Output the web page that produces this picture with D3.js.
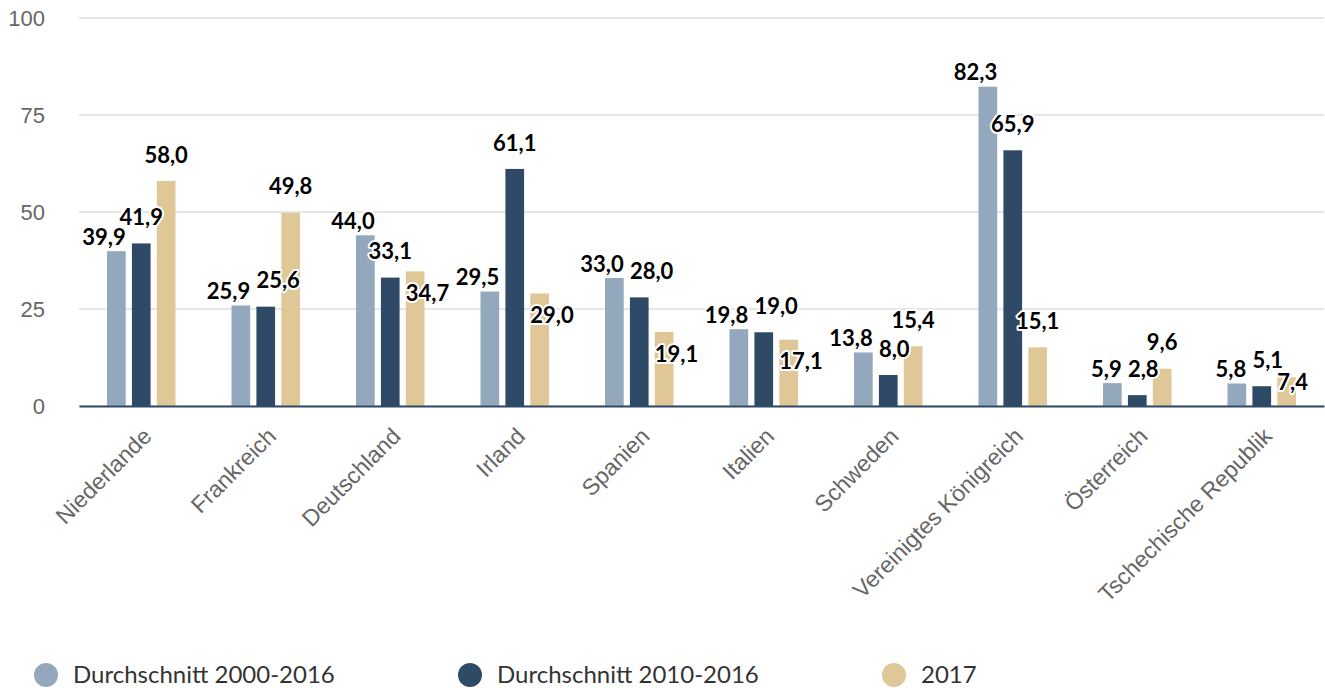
<!DOCTYPE html>
<html>
<head>
<meta charset="utf-8">
<script src="https://cdn.jsdelivr.net/npm/d3@7"></script>
<style>
  body { margin: 0; background: #fff; }
  svg { display: block; font-family: "Lato", "Noto Sans", sans-serif; }
  .yax .tick text { fill: #666; font-size: 22px; }
  .xax .tick text { fill: #666; font-size: 23px; }
  .lbl { font-weight: bold; font-size: 22px; fill: #000; stroke: #fff; stroke-width: 4px; paint-order: stroke; stroke-linejoin: round; }
  .legend text { fill: #333; font-size: 24px; }
</style>
</head>
<body>
<svg id="chart"></svg>
<script>
var countries = ["Niederlande", "Frankreich", "Deutschland", "Irland", "Spanien",
                 "Italien", "Schweden", "Vereinigtes Königreich", "Österreich", "Tschechische Republik"];
var seriesNames = ["Durchschnitt 2000-2016", "Durchschnitt 2010-2016", "2017"];
var avg2000 = [39.9, 25.9, 44.0, 29.5, 33.0, 19.8, 13.8, 82.3, 5.9, 5.8];
var avg2010 = [41.9, 25.6, 33.1, 61.1, 28.0, 19.0, 8.0, 65.9, 2.8, 5.1];
var y2017 = [58.0, 49.8, 34.7, 29.0, 19.1, 17.1, 15.4, 15.1, 9.6, 7.4];
var yTicks = [0, 25, 50, 75, 100];
var colors = ["#94a8bd", "#2e4a66", "#e0c797"];

var W = 1325, H = 688;
var margin = {top: 18, right: 1, bottom: 282, left: 79};
var width = W - margin.left - margin.right,
    height = H - margin.top - margin.bottom;

var svg = d3.select("#chart").attr("width", W).attr("height", H);
var g = svg.append("g").attr("transform", "translate(" + margin.left + "," + margin.top + ")");

var x = d3.scaleBand().domain(countries).range([0, width]);
var xs = d3.scaleBand().domain([0, 1, 2]).range([28, x.bandwidth() - 28]).paddingInner(0.25);
var y = d3.scaleLinear().domain([0, 100]).range([height, 0]);

// grid
g.append("g").selectAll("line").data(yTicks).enter().append("line")
  .attr("x1", 0).attr("x2", width)
  .attr("y1", function(d) { return y(d); }).attr("y2", function(d) { return y(d); })
  .attr("stroke", "#e6e6e6").attr("stroke-width", 2);

// y axis labels
var ya = g.append("g").attr("class", "yax")
  .call(d3.axisLeft(y).tickValues(yTicks).tickSize(0).tickPadding(34));
ya.select(".domain").remove();

var data = [avg2000, avg2010, y2017];

var groups = g.selectAll(".grp").data(countries).enter().append("g")
  .attr("transform", function(d) { return "translate(" + x(d) + ",0)"; });

groups.selectAll("rect").data(function(c, i) {
    return data.map(function(s, k) { return {k: k, v: s[i]}; });
  }).enter().append("rect")
  .attr("x", function(d) { return xs(d.k); })
  .attr("width", xs.bandwidth())
  .attr("y", function(d) { return y(d.v); })
  .attr("height", function(d) { return height - y(d.v); })
  .attr("fill", function(d) { return colors[d.k]; });

// x axis
var xa = g.append("g").attr("class", "xax").attr("transform", "translate(0," + height + ")")
  .call(d3.axisBottom(x).tickSize(0).tickPadding(0));
xa.select(".domain").attr("stroke", "#2e4a66").attr("stroke-width", 2);
xa.selectAll(".tick text")
  .attr("text-anchor", "end")
  .attr("dy", "0.35em")
  .attr("transform", "translate(6,26) rotate(-45)");

// data labels, nudged sideways / inside when they would collide
function fmt(v) { return d3.format(".1f")(v).replace(".", ","); }
function overlap(a, b, padX, padY) {
  return a.x0 < b.x1 + padX && b.x0 < a.x1 + padX && Math.abs(a.cy - b.cy) < 18 + padY;
}
function box(x0, w, cy) { return {x0: x0, x1: x0 + w, cy: cy, w: w}; }

var lblLayer = g.append("g");
countries.forEach(function(c, i) {
  var bw = xs.bandwidth();
  var placed = [];
  data.forEach(function(s, k) {
    var v = s[i];
    var bx = x(c) + xs(k);
    var top = y(v);
    var t = lblLayer.append("text").attr("class", "lbl").attr("dy", "0.35em").text(fmt(v));
    var w = t.node().getComputedTextLength();
    var b;
    if (k === 0) {
      b = box(bx + bw - w, w, top - 14);
    } else if (k === 1) {
      b = box(bx + bw / 2 - w / 2, w, top - 26);
      if (overlap(b, placed[0], 6, 0)) {
        b = box(bx, w, top - 26);
        if (overlap(b, placed[0], 4, 0)) {
          b = box(bx + bw / 2 - w / 2, w, top - 26);
          while (overlap(b, placed[0], 0, 0)) b.cy -= 12;
        }
      }
    } else {
      b = box(bx + bw / 2 - w / 2, w, top - 26);
      var lower = v < Math.max(data[0][i], data[1][i]);
      var crowded = placed.some(function(p) {
        return overlap(b, p, 18, 0) || (lower && Math.abs(p.cy - b.cy) < 40);
      });
      if (crowded) b = box(bx, w, Math.min(top + 22, height - 24));
    }
    placed.push(b);
    t.attr("x", b.x0).attr("y", b.cy);
  });
});

// legend
var lg = svg.append("g").attr("class", "legend").attr("transform", "translate(46,675)");
var items = lg.selectAll("g").data(seriesNames).enter().append("g")
  .attr("transform", function(d, i) { return "translate(" + (i * 424) + ",0)"; });
items.append("circle").attr("r", 12).attr("fill", function(d, i) { return colors[i]; });
items.append("text").attr("x", 27).attr("dy", "0.35em").text(function(d) { return d; });
</script>
</body>
</html>
